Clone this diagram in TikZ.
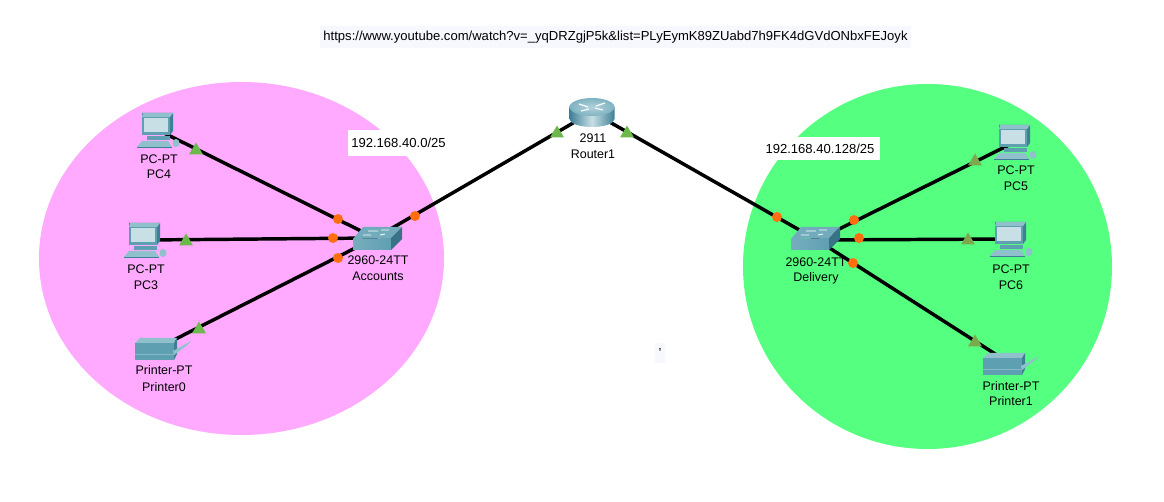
\documentclass[tikz,border=0pt]{standalone}
\usepackage{fontspec}
\setmainfont{Liberation Sans}
\definecolor{zonepink}{HTML}{FFAAFF}
\definecolor{zonegreen}{HTML}{55FF80}
\definecolor{linkup}{HTML}{6DB84A}
\definecolor{linkolive}{HTML}{7CA84E}
\definecolor{linkwait}{HTML}{FF6F0F}
\definecolor{notebg}{HTML}{F7F8FE}
\definecolor{teal1}{HTML}{5F9FB2}
\definecolor{teal2}{HTML}{3E7F95}
\definecolor{teal3}{HTML}{8FC0CC}
\tikzset{
  zone/.style={draw=none},
  link/.style={line width=2.6pt,black,line cap=round},
  device/.style={inner sep=0pt,minimum size=1pt},
  lab/.style={font=\fontsize{9.35pt}{11pt}\selectfont,inner sep=0pt,text=black,yshift=-0.75pt},
  note/.style={font=\fontsize{9.8pt}{11pt}\selectfont,inner sep=0pt,anchor=center},
  uptri/.pic={\fill[linkup] (-7,5.5) -- (7,5.5) -- (0,-6.5) -- cycle;},
  olivetri/.pic={\fill[linkolive] (-7,5.5) -- (7,5.5) -- (0,-6.5) -- cycle;},
  waitdot/.pic={\fill[linkwait] (0,0) circle (5);},
  pcicon/.pic={
    \fill[teal2] (-16,-17) -- (15,-17) -- (15,1) -- (12,5) -- (-16,5) -- cycle;
    \fill[teal3] (-15,-17) -- (15,-17) -- (12,-13) -- (-16,-13) -- cycle;
    \fill[teal1] (-16,-13) rectangle (12,5);
    \fill[teal3!50!white] (-14,-12) rectangle (10,2);
    \fill[teal1] (-11,6) rectangle (12,10);
    \fill[teal3] (-16,11) -- (10,11) -- (14,17) -- (-21,17) -- cycle;
    \fill[teal2] (-21,17) rectangle (14,18.5);
    \fill[teal3] (18,13) ellipse[x radius=3.5,y radius=4];
  },
  switchicon/.pic={
    \fill[teal1!60!teal3] (-12,-11) -- (27,-11) -- (16,0) -- (-22,1) -- cycle;
    \shade[left color=teal1!85!white,right color=teal1] (-22,1) -- (16,0) -- (16,12) -- (-22,12) -- cycle;
    \fill[teal2!90!black] (16,0) -- (27,-11) -- (27,1) -- (16,12) -- cycle;
    \draw[white,line width=.6pt] (-7,-7) -- (3,-7) (6,-8) -- (14,-8) (-12,-3) -- (-4,-3) (5,-3) -- (10,-4);
  },
  routericon/.pic={
    \shade[left color=teal2,right color=teal2,middle color=teal3!50!white]
      (-22.5,-5) -- (-22.5,7) arc[start angle=180,end angle=0,x radius=22.5,y radius=8] -- (22.5,-5) -- cycle;
    \shade[inner color=teal3!70!white,outer color=teal1!80!white] (0,-5) ellipse[x radius=22.5,y radius=9];
    \draw[white,line width=.9pt] (-13,-8) -- (-4,-5) (13,-9) -- (4,-6) (-11,-1) -- (-3,-3) (11,-2) -- (3,-4);
  },
  printericon/.pic={
    \fill[teal3] (-21,-6) -- (-16,-11) -- (21,-11) -- (18,-6) -- cycle;
    \fill[teal1] (-21,-6) rectangle (18,11);
    \fill[teal3!80!teal1] (-21,5) rectangle (18,6);
    \fill[teal2] (18,-6) -- (21,-11) -- (21,5) -- (18,11) -- cycle;
    \fill[teal3] (17,2) -- (35,-8) -- (30,-3) -- (18,6) -- cycle;
  }
}
\begin{document}
\begin{tikzpicture}[x=0.75pt,y=-0.75pt]
\useasboundingbox (0,0) rectangle (1164,502);
\fill[white] (0,0) rectangle (1164,502);
\fill[zone,zonepink] (241.5,258.5) ellipse[x radius=202.5,y radius=176.5];
\fill[zone,zonegreen] (927.5,266.5) ellipse[x radius=184.5,y radius=182.5];

\node[note,fill=notebg,minimum width=591*0.75pt,minimum height=22*0.75pt] (url) at (615.5,37) {https://www.youtube.com/watch?v=\_yqDRZgjP5k\&list=PLyEymK89ZUabd7h9FK4dGVdONbxFEJoyk};
\node[note,fill=white,minimum width=101*0.75pt,minimum height=26*0.75pt] (netA) at (398.5,143) {192.168.40.0/25};
\node[note,fill=white,minimum width=120*0.75pt,minimum height=23*0.75pt] (netB) at (820,148.5) {192.168.40.128/25};
\node[note,fill=notebg,minimum width=10*0.75pt,minimum height=20*0.75pt] (tick) at (660,353) {'};

\node[device] (pc4) at (158,130) {};
\node[device] (pc3) at (145,240) {};
\node[device] (prn0) at (156,349) {};
\node[device] (swA) at (375,238) {};
\node[device] (rtr) at (592,112) {};
\node[device] (swB) at (817,240) {};
\node[device] (pc5) at (1015,142) {};
\node[device] (pc6) at (1011,239) {};
\node[device] (prn1) at (1003,359) {};

\draw[link] (pc4) -- (swA);
\draw[link] (pc3) -- (swA);
\draw[link] (prn0) -- (swA);
\draw[link] (swA) -- (rtr);
\draw[link] (rtr) -- (swB);
\draw[link] (swB) -- (pc5);
\draw[link] (swB) -- (pc6);
\draw[link] (swB) -- (prn1);

\pic at (158,130) {pcicon};
\pic at (145,240) {pcicon};
\pic at (1015,142) {pcicon};
\pic at (1011,239) {pcicon};
\pic at (375,238) {switchicon};
\pic at (813,238) {switchicon};
\pic at (592,112) {routericon};
\pic at (156,349) {printericon};
\pic at (1004,364) {printericon};

\foreach \p in {(196,149),(186,240),(199,328),(557,132),(627,132)}
  \pic at \p {uptri};
\foreach \p in {(975,160),(968,239),(975,341)}
  \pic at \p {olivetri};
\foreach \p in {(338,219),(333,238),(338,258),(415,216),(777,217),(854,220),(859,238),(853,263)}
  \pic at \p {waitdot};

\node[lab] (l1) at (159,158) {PC-PT};
\node[lab] (l2) at (159,173) {PC4};
\node[lab] (l3) at (146,268) {PC-PT};
\node[lab] (l4) at (146,284) {PC3};
\node[lab] (l5) at (164,369) {Printer-PT};
\node[lab] (l6) at (164,386) {Printer0};
\node[lab] (l7) at (378,259) {2960-24TT};
\node[lab] (l8) at (378,275) {Accounts};
\node[lab] (l9) at (593,137) {2911};
\node[lab] (l10) at (593,153) {Router1};
\node[lab] (l11) at (816,261) {2960-24TT};
\node[lab] (l12) at (816,277) {Delivery};
\node[lab] (l13) at (1016,169) {PC-PT};
\node[lab] (l14) at (1016,185) {PC5};
\node[lab] (l15) at (1011,268) {PC-PT};
\node[lab] (l16) at (1011,284) {PC6};
\node[lab] (l17) at (1011,385) {Printer-PT};
\node[lab] (l18) at (1011,400) {Printer1};
\end{tikzpicture}
\end{document}
